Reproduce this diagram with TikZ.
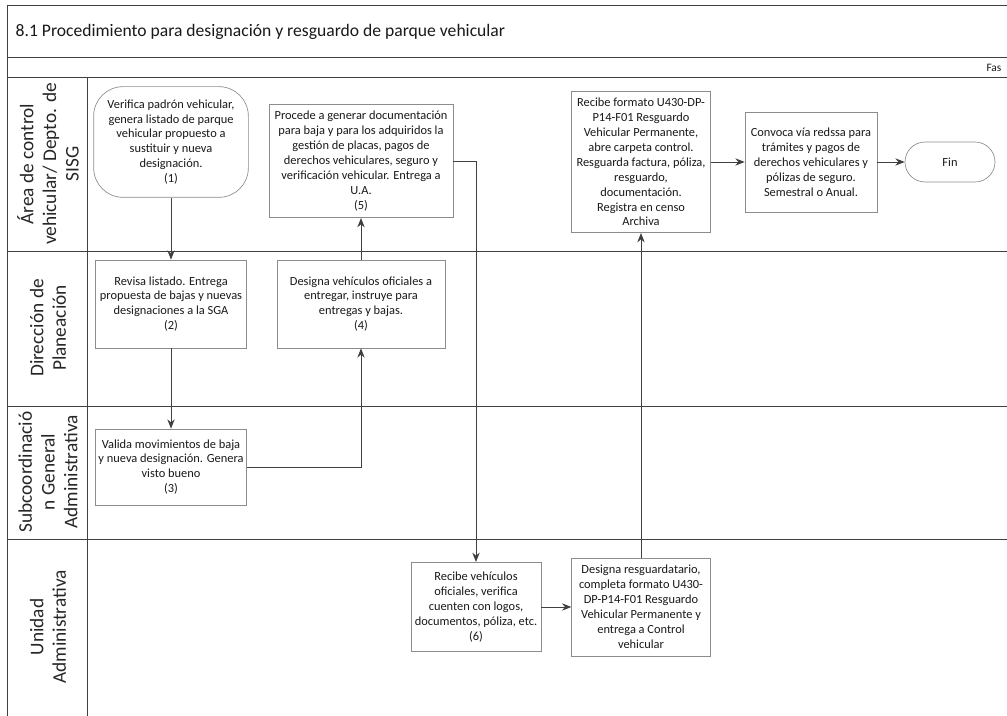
\documentclass[tikz,border=0pt]{standalone}
\usepackage{fontspec}
\setmainfont{Carlito}
\usetikzlibrary{arrows.meta}

\begin{document}
\begin{tikzpicture}[x=0.75pt,y=0.75pt,yscale=-1,
	lane/.style={draw=black!75,line width=0.7pt},
	actbox/.style={draw=black!45,line width=0.5pt,fill=white,align=center,inner sep=1pt,font=\fontsize{9.3}{11.2}\selectfont,text=black!90},
	lanelabel/.style={rotate=90,align=center,font=\fontsize{14.5}{17}\selectfont,text=black!85},
	flow/.style={draw=black!75,line width=0.7pt,-{Stealth[length=7pt,width=5.5pt]}}]
	\clip (0,0) rectangle (1007,716);
	
	%Frame and lanes
	\draw[lane] (7,5) -- (1007,5) ;
	\draw[lane] (7,5) -- (7,716) ;
	\draw[lane] (87,77) -- (87,716) ;
	\foreach \y in {57,77,251,406,539}
		\draw[lane] (7,\y) -- (1007,\y) ;
	
	% Title
	\node[anchor=west,font=\fontsize{13.2}{16}\selectfont,text=black!90] (titulo) at (11,32) {8.1 Procedimiento para designación y resguardo de parque vehicular};
	\node[anchor=east,font=\fontsize{8.5}{10}\selectfont,text=black!90] (fase) at (1006,68) {Fas};
	
	% Lane labels
	\node[lanelabel] (lblcontrol) at (48,164) {Área de control\\vehicular/ Depto. de\\SISG};
	\node[lanelabel] (lblplaneacion) at (48,328) {Dirección de\\Planeación};
	\node[lanelabel] (lblsga) at (48,472) {Subcoordinació\\n General\\Administrativa};
	\node[lanelabel] (lblunidad) at (48,627) {Unidad\\Administrativa};
	
	% Activities
	\node[actbox,rounded corners=22pt,minimum width=116pt,minimum height=83pt] (verifica) at (171,142) {Verifica padrón vehicular,\\genera listado de parque\\vehicular propuesto a\\sustituir y nueva\\designación.\\(1)};
	\node[actbox,minimum width=113pt,minimum height=66pt] (revisa) at (171,304) {Revisa listado. Entrega\\propuesta de bajas y nuevas\\designaciones a la SGA\\(2)};
	\node[actbox,minimum width=113pt,minimum height=57pt] (valida) at (171,467) {Valida movimientos de baja\\y nueva designación. Genera\\visto bueno\\(3)};
	\node[actbox,minimum width=126pt,minimum height=66pt] (designa) at (361,304) {Designa vehículos oficiales a\\entregar, instruye para\\entregas y bajas.\\(4)};
	\node[actbox,minimum width=138pt,minimum height=85pt] (procede) at (361,161) {Procede a generar documentación\\para baja y para los adquiridos la\\gestión de placas, pagos de\\derechos vehiculares, seguro y\\verificación vehicular. Entrega a\\U.A.\\(5)};
	\node[actbox,minimum width=97.5pt,minimum height=67pt] (recibeveh) at (476,607) {Recibe vehículos\\oficiales, verifica\\cuenten con logos,\\documentos, póliza, etc.\\(6)};
	\node[actbox,minimum width=104pt,minimum height=73.5pt] (resguardatario) at (641,607) {Designa resguardatario,\\completa formato U430-\\DP-P14-F01 Resguardo\\Vehicular Permanente y\\entrega a Control\\vehicular};
	\node[actbox,minimum width=104pt,minimum height=106pt] (recibeformato) at (641,162) {Recibe formato U430-DP-\\P14-F01 Resguardo\\Vehicular Permanente,\\abre carpeta control.\\Resguarda factura, póliza,\\resguardo,\\documentación.\\Registra en censo\\Archiva};
	\node[actbox,minimum width=99pt,minimum height=75pt] (convoca) at (811,162) {Convoca vía redssa para\\trámites y pagos de\\derechos vehiculares y\\pólizas de seguro.\\Semestral o Anual.};
	\node[actbox,rounded corners=15pt,minimum width=67.5pt,minimum height=30pt] (fin) at (950,162) {Fin};
	
	% Connectors
	\draw[flow] (verifica.south) -- (revisa.north) ;
	\draw[flow] (revisa.south) -- (valida.north) ;
	\draw[flow] (valida.east) -| (designa.south) ;
	\draw[flow] (designa.north) -- (procede.south) ;
	\draw[flow] (procede.east) -| (recibeveh.north) ;
	\draw[flow] (recibeveh.east) -- (resguardatario.west) ;
	\draw[flow] (resguardatario.north) -- (recibeformato.south) ;
	\draw[flow] (recibeformato.east) -- (convoca.west) ;
	\draw[flow] (convoca.east) -- (fin.west) ;
\end{tikzpicture}
\end{document}
